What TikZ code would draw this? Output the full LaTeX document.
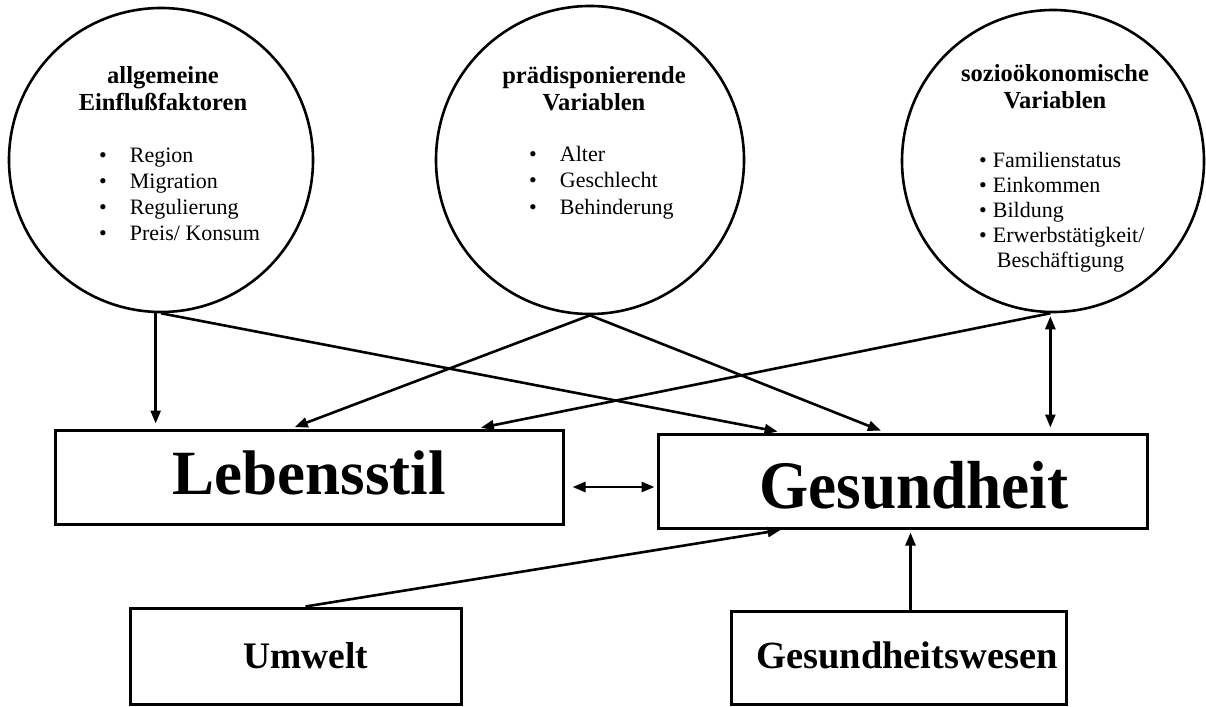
\documentclass[tikz,border=0pt]{standalone}
\usepackage{fontspec}
\setmainfont{Liberation Serif}
\usetikzlibrary{arrows.meta,calc}
\begin{document}
\begin{tikzpicture}[x=1pt,y=-1pt,
  circ/.style={draw, circle, line width=2.6pt, inner sep=0pt, minimum size=#1},
  box/.style={draw, rectangle, line width=3pt, inner sep=0pt},
  conn/.style={line width=2.6pt, -{Triangle[length=13pt,width=10pt]}},
  dconn/.style={line width=2.6pt, {Triangle[length=13pt,width=10pt]}-{Triangle[length=13pt,width=10pt]}},
  title/.style={font=\fontsize{24.5}{27}\selectfont\bfseries, inner sep=0pt, anchor=base},
  items/.style={inner sep=0pt, anchor=base west},
  bigtext/.style={font=\fontsize{#1}{#1}\selectfont\bfseries, inner sep=0pt, anchor=base},
]
\useasboundingbox (0,0) rectangle (1206,706);
% circles
\node[circ=304] (c1) at (161,160) {};
\node[circ=308] (c2) at (590,160) {};
\node[circ=302] (c3) at (1053,161) {};
% titles
\node[title] (t1) at (163,84) {\begin{tabular}[t]{@{}c@{}}allgemeine\\Einflußfaktoren\end{tabular}};
\node[title] (t2) at (594,84) {\begin{tabular}[t]{@{}c@{}}prädisponierende\\Variablen\end{tabular}};
\node[title] (t3) at (1055,82) {\begin{tabular}[t]{@{}c@{}}sozioökonomische\\Variablen\end{tabular}};
% lists
\node[items] (l1) at (99,162) {\fontsize{22}{26}\selectfont\begin{tabular}[t]{@{}l@{\hspace{23pt}}l@{}}\textbullet & Region\\ \textbullet & Migration\\ \textbullet & Regulierung\\ \textbullet & Preis/ Konsum\end{tabular}};
\node[items] (l2) at (529,161) {\fontsize{22}{26.5}\selectfont\begin{tabular}[t]{@{}l@{\hspace{23pt}}l@{}}\textbullet & Alter\\ \textbullet & Geschlecht\\ \textbullet & Behinderung\end{tabular}};
\node[items] (l3) at (979,167) {\fontsize{22}{25}\selectfont\begin{tabular}[t]{@{}l@{\hspace{6pt}}l@{}}\textbullet & Familienstatus\\ \textbullet & Einkommen\\ \textbullet & Bildung\\ \textbullet & Erwerbstätigkeit/\\ & \hspace{4pt}Beschäftigung\end{tabular}};
% boxes
\node[box, minimum width=508pt, minimum height=94pt] (leb) at (309,477) {};
\node[box, minimum width=489pt, minimum height=94pt] (ges) at (902.5,481) {};
\node[box, minimum width=331pt, minimum height=96pt] (umw) at (295.5,656) {};
\node[box, minimum width=335pt, minimum height=93pt] (gw) at (898.5,657.5) {};
\node[bigtext=63] (lebT) at (309,494) {Lebensstil};
\node[bigtext=68, xscale=0.93] (gesT) at (914,508) {Gesundheit};
\node[bigtext=37.5] (umwT) at (306,668) {Umwelt};
\node[bigtext=38.5] (gwT) at (907,668) {Gesundheitswesen};
% connectors
\draw[conn, shorten >=5pt] (c1.268) -- (c1.268 |- leb.north);
\draw[conn, shorten >=5pt] (c1.south) -- ([xshift=-120pt]ges.north);
\draw[conn, shorten >=4pt] (c2.south) -- ([xshift=-18pt]leb.north);
\draw[conn, shorten >=5pt] (c2.south) -- ([xshift=-17pt]ges.north);
\draw[conn, shorten >=4pt] (c3.269) -- ([xshift=168pt]leb.north);
\draw[dconn, shorten <=3pt, shorten >=5pt] (c3.269) -- (c3.269 |- ges.north);
\draw[dconn, shorten <=8pt, shorten >=2pt] ([yshift=-10pt]leb.east) -- ([yshift=-10pt]leb.east -| ges.west);
\draw[conn, shorten >=3pt] ([xshift=10pt]umw.north) -- ([xshift=-119pt]ges.south);
\draw[conn, shorten >=3pt] ([xshift=12pt]gw.north) -- ([xshift=12pt]gw.north |- ges.south);
\end{tikzpicture}
\end{document}
